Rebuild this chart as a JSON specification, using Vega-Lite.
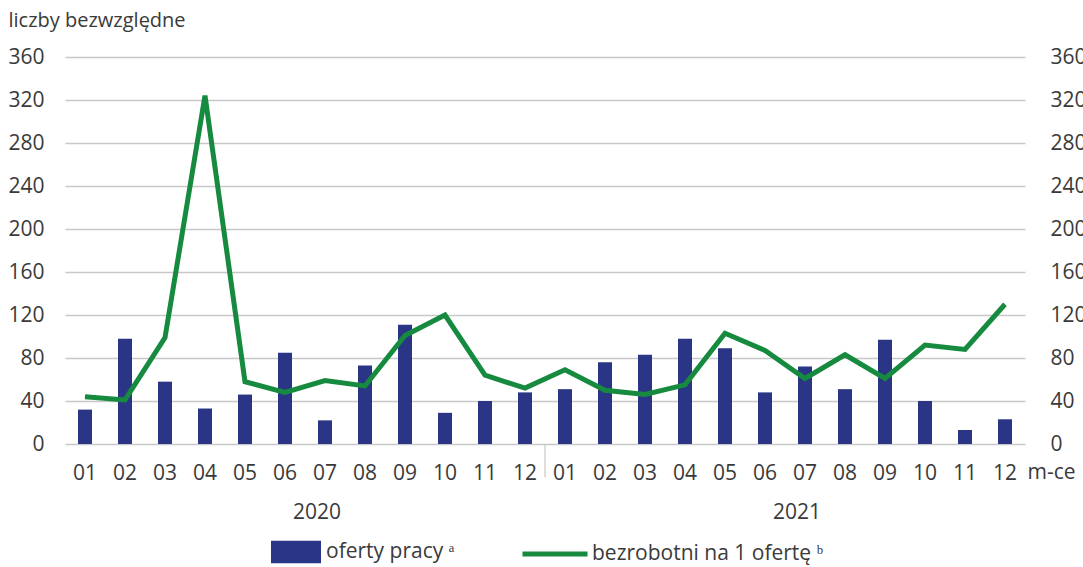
{
  "$schema": "https://vega.github.io/schema/vega-lite/v6.json",
  "width": 960,
  "height": 387,
  "autosize": {"type": "none"},
  "padding": {"left": 65, "top": 57, "right": 58, "bottom": 123},
  "config": {
    "font": "Open Sans",
    "view": {"stroke": null},
    "axis": {"labelFont": "Open Sans", "labelFontSize": 21, "labelColor": "#3a3a3a", "titleFont": "Open Sans", "titleColor": "#3a3a3a", "titleFontWeight": "normal", "titleFontSize": 21},
    "legend": {"labelFont": "Open Sans", "labelFontSize": 21, "labelColor": "#3a3a3a"}
  },
  "data": {
    "values": [
      {"key": "2020-01", "oferty": 32, "bezrobotni": 44},
      {"key": "2020-02", "oferty": 98, "bezrobotni": 41},
      {"key": "2020-03", "oferty": 58, "bezrobotni": 99},
      {"key": "2020-04", "oferty": 33, "bezrobotni": 324},
      {"key": "2020-05", "oferty": 46, "bezrobotni": 58},
      {"key": "2020-06", "oferty": 85, "bezrobotni": 48},
      {"key": "2020-07", "oferty": 22, "bezrobotni": 59},
      {"key": "2020-08", "oferty": 73, "bezrobotni": 54},
      {"key": "2020-09", "oferty": 111, "bezrobotni": 101},
      {"key": "2020-10", "oferty": 29, "bezrobotni": 120},
      {"key": "2020-11", "oferty": 40, "bezrobotni": 64},
      {"key": "2020-12", "oferty": 48, "bezrobotni": 52},
      {"key": "2021-01", "oferty": 51, "bezrobotni": 69},
      {"key": "2021-02", "oferty": 76, "bezrobotni": 50},
      {"key": "2021-03", "oferty": 83, "bezrobotni": 46},
      {"key": "2021-04", "oferty": 98, "bezrobotni": 55},
      {"key": "2021-05", "oferty": 89, "bezrobotni": 103},
      {"key": "2021-06", "oferty": 48, "bezrobotni": 87},
      {"key": "2021-07", "oferty": 72, "bezrobotni": 61},
      {"key": "2021-08", "oferty": 51, "bezrobotni": 83},
      {"key": "2021-09", "oferty": 97, "bezrobotni": 61},
      {"key": "2021-10", "oferty": 40, "bezrobotni": 92},
      {"key": "2021-11", "oferty": 13, "bezrobotni": 88},
      {"key": "2021-12", "oferty": 23, "bezrobotni": 130}
    ]
  },
  "layer": [
    {
      "mark": {"type": "bar", "width": {"band": 0.35}},
      "encoding": {
        "x": {
          "field": "key", "type": "ordinal",
          "scale": {"paddingInner": 0, "paddingOuter": 0},
          "axis": {
            "labelExpr": "slice(datum.value, 5)", "labelAngle": 0, "ticks": false, "domain": false,
            "labelPadding": 18, "title": "m-ce", "titleX": 962, "titleY": 28, "titleAlign": "left",
            "titleBaseline": "middle", "titleAnchor": null
          }
        },
        "y": {
          "field": "oferty", "type": "quantitative",
          "scale": {"domain": [0, 360], "nice": false},
          "axis": {
            "values": [0, 40, 80, 120, 160, 200, 240, 280, 320, 360],
            "grid": true, "gridColor": "#c8c8c8", "gridWidth": 1.5,
            "ticks": false, "domain": false, "labelPadding": 21,
            "title": "liczby bezwzględne", "titleAngle": 0, "titleX": -57, "titleY": -37,
            "titleAlign": "left", "titleBaseline": "middle", "titleAnchor": null, "titleFontSize": 20
          }
        },
        "fill": {
          "datum": "oferty pracy",
          "scale": {"range": ["#2b3585"]},
          "legend": {
            "orient": "none", "legendX": 206, "legendY": 470, "padding": 0, "title": null,
            "symbolType": "M-1,-0.45H1V0.45H-1Z", "symbolSize": 2500, "symbolStrokeWidth": 0,
            "symbolOpacity": 1, "labelOffset": 5, "labelExpr": "datum.label + ' ᵃ'", "labelLimit": 400
          }
        }
      }
    },
    {
      "mark": {"type": "line", "strokeWidth": 5, "strokeJoin": "miter"},
      "encoding": {
        "x": {"field": "key", "type": "ordinal"},
        "y": {
          "field": "bezrobotni", "type": "quantitative",
          "axis": {
            "orient": "right", "values": [0, 40, 80, 120, 160, 200, 240, 280, 320, 360],
            "grid": false, "ticks": false, "domain": false, "labelPadding": 25, "title": null
          }
        },
        "stroke": {
          "datum": "bezrobotni na 1 ofertę",
          "scale": {"range": ["#168a3e"]},
          "legend": {
            "orient": "none", "legendX": 455, "legendY": 462, "padding": 0, "title": null,
            "symbolType": "stroke", "symbolSize": 4225, "symbolStrokeWidth": 5,
            "labelOffset": 2, "labelExpr": "datum.label + ' ᵇ'", "labelLimit": 400
          }
        }
      }
    },
    {
      "data": {"values": [{"key": "2021-01"}]},
      "mark": {"type": "rule", "color": "#bdbdbd", "strokeWidth": 1},
      "encoding": {
        "x": {"field": "key", "type": "ordinal", "bandPosition": 0},
        "y": {"datum": 0, "axis": null},
        "y2": {"datum": -31}
      }
    },
    {
      "data": {"values": [{"key": "2020-07", "year": "2020"}, {"key": "2021-07", "year": "2021"}]},
      "mark": {"type": "text", "fontSize": 21, "color": "#3a3a3a", "dx": 12, "baseline": "middle", "align": "center"},
      "encoding": {
        "x": {"field": "key", "type": "ordinal", "bandPosition": 0},
        "y": {"datum": -64, "axis": null},
        "text": {"field": "year"}
      }
    }
  ],
  "resolve": {"scale": {"y": "shared"}, "axis": {"y": "independent"}}
}
